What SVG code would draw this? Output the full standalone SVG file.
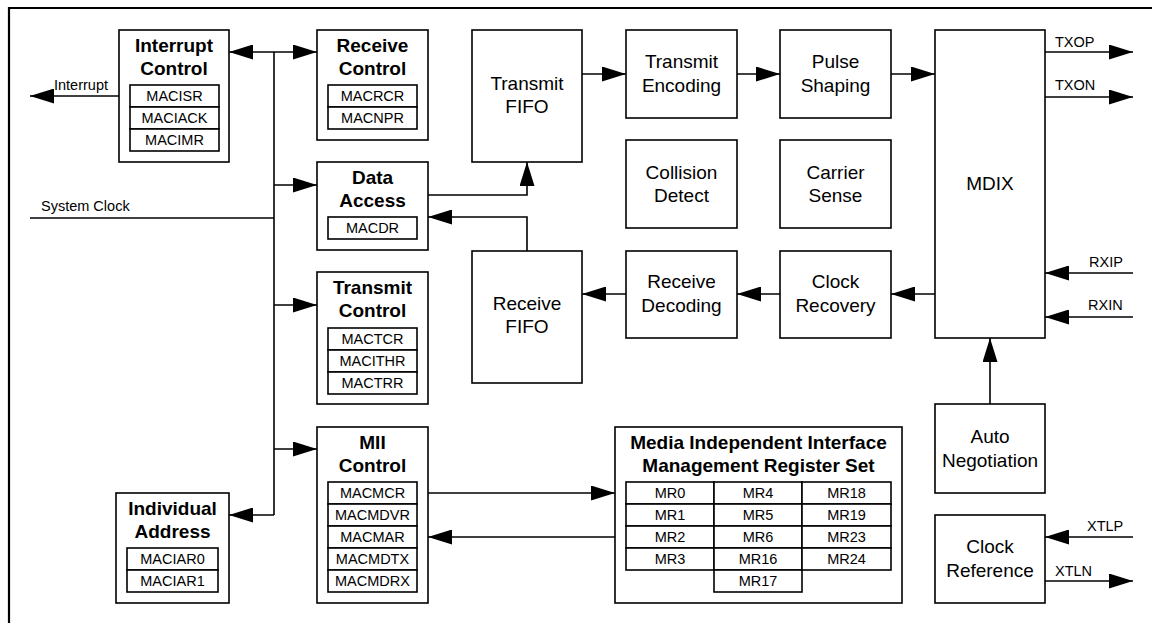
<svg xmlns="http://www.w3.org/2000/svg" width="1152" height="623" viewBox="0 0 1152 623">
<style>
.box{fill:#fff;stroke:#000;stroke-width:1.6}
.reg{fill:#fff;stroke:#000;stroke-width:1.6}
.ln{fill:none;stroke:#000;stroke-width:1.6}
.ttl{font-family:"Liberation Sans",Arial,sans-serif;font-weight:bold;font-size:19px;text-anchor:middle;fill:#000}
.lbl{font-family:"Liberation Sans",Arial,sans-serif;font-size:19px;text-anchor:middle;fill:#000}
.rt{font-family:"Liberation Sans",Arial,sans-serif;font-size:14.5px;text-anchor:middle;fill:#000}
.sm{font-family:"Liberation Sans",Arial,sans-serif;font-size:14.5px;fill:#000}
</style>
<defs>
<marker id="ah" markerUnits="userSpaceOnUse" markerWidth="24" markerHeight="15" refX="24" refY="7.5" orient="auto">
<path d="M0,0 L24,7.5 L0,15 Z" fill="#000"/>
</marker>
</defs>
<rect width="1152" height="623" fill="#fff"/>
<path d="M9,623 V8 H1152" fill="none" stroke="#000" stroke-width="2.2"/>

<g id="connectors">
<path class="ln" d="M274,52 V515"/>
<path class="ln" d="M274,52 H229" marker-end="url(#ah)"/>
<path class="ln" d="M274,52 H317" marker-end="url(#ah)"/>
<path class="ln" d="M274,185 H317" marker-end="url(#ah)"/>
<path class="ln" d="M274,305 H317" marker-end="url(#ah)"/>
<path class="ln" d="M274,449 H317" marker-end="url(#ah)"/>
<path class="ln" d="M274,515 H229" marker-end="url(#ah)"/>
<path class="ln" d="M30,218 H274"/>
<path class="ln" d="M119,96 H30" marker-end="url(#ah)"/>
<path class="ln" d="M428,195 H527 V162" marker-end="url(#ah)"/>
<path class="ln" d="M527,251 V217 H428" marker-end="url(#ah)"/>
<path class="ln" d="M582,74 H626" marker-end="url(#ah)"/>
<path class="ln" d="M737,74 H780" marker-end="url(#ah)"/>
<path class="ln" d="M891,74 H935" marker-end="url(#ah)"/>
<path class="ln" d="M935,294 H891" marker-end="url(#ah)"/>
<path class="ln" d="M780,294 H737" marker-end="url(#ah)"/>
<path class="ln" d="M626,294 H582" marker-end="url(#ah)"/>
<path class="ln" d="M428,493 H615" marker-end="url(#ah)"/>
<path class="ln" d="M615,537 H428" marker-end="url(#ah)"/>
<path class="ln" d="M990,404 V338" marker-end="url(#ah)"/>
<path class="ln" d="M1045,52 H1133" marker-end="url(#ah)"/>
<path class="ln" d="M1045,97 H1133" marker-end="url(#ah)"/>
<path class="ln" d="M1133,273 H1045" marker-end="url(#ah)"/>
<path class="ln" d="M1133,317 H1045" marker-end="url(#ah)"/>
<path class="ln" d="M1133,537 H1045" marker-end="url(#ah)"/>
<path class="ln" d="M1045,581 H1133" marker-end="url(#ah)"/>
<text class="sm" x="54" y="90">Interrupt</text>
<text class="sm" x="41" y="211">System Clock</text>
<text class="sm" x="1055" y="47">TXOP</text>
<text class="sm" x="1055" y="90">TXON</text>
<text class="sm" x="1089" y="267">RXIP</text>
<text class="sm" x="1088" y="310">RXIN</text>
<text class="sm" x="1087" y="531">XTLP</text>
<text class="sm" x="1055" y="576">XTLN</text>
</g>

<g id="interrupt-control">
<rect class="box" x="119" y="30" width="110" height="132"/>
<text class="ttl" x="174" y="52">Interrupt</text>
<text class="ttl" x="174" y="75">Control</text>
<rect class="reg" x="130" y="85" width="89" height="22"/><text class="rt" x="174.5" y="101">MACISR</text>
<rect class="reg" x="130" y="107" width="89" height="22"/><text class="rt" x="174.5" y="123">MACIACK</text>
<rect class="reg" x="130" y="129" width="89" height="22"/><text class="rt" x="174.5" y="145">MACIMR</text>
</g>

<g id="receive-control">
<rect class="box" x="317" y="30" width="111" height="110"/>
<text class="ttl" x="372.5" y="52">Receive</text>
<text class="ttl" x="372.5" y="75">Control</text>
<rect class="reg" x="328" y="85" width="89" height="22"/><text class="rt" x="372.5" y="101">MACRCR</text>
<rect class="reg" x="328" y="107" width="89" height="22"/><text class="rt" x="372.5" y="123">MACNPR</text>
</g>

<g id="data-access">
<rect class="box" x="317" y="162" width="111" height="88"/>
<text class="ttl" x="372.5" y="184">Data</text>
<text class="ttl" x="372.5" y="207">Access</text>
<rect class="reg" x="328" y="217" width="89" height="22"/><text class="rt" x="372.5" y="233">MACDR</text>
</g>

<g id="transmit-control">
<rect class="box" x="317" y="272" width="111" height="132"/>
<text class="ttl" x="372.5" y="294">Transmit</text>
<text class="ttl" x="372.5" y="317">Control</text>
<rect class="reg" x="328" y="328" width="89" height="22"/><text class="rt" x="372.5" y="344">MACTCR</text>
<rect class="reg" x="328" y="350" width="89" height="22"/><text class="rt" x="372.5" y="366">MACITHR</text>
<rect class="reg" x="328" y="372" width="89" height="22"/><text class="rt" x="372.5" y="388">MACTRR</text>
</g>

<g id="mii-control">
<rect class="box" x="317" y="427" width="111" height="176"/>
<text class="ttl" x="372.5" y="449">MII</text>
<text class="ttl" x="372.5" y="472">Control</text>
<rect class="reg" x="328" y="482" width="89" height="22"/><text class="rt" x="372.5" y="498">MACMCR</text>
<rect class="reg" x="328" y="504" width="89" height="22"/><text class="rt" x="372.5" y="520">MACMDVR</text>
<rect class="reg" x="328" y="526" width="89" height="22"/><text class="rt" x="372.5" y="542">MACMAR</text>
<rect class="reg" x="328" y="548" width="89" height="22"/><text class="rt" x="372.5" y="564">MACMDTX</text>
<rect class="reg" x="328" y="570" width="89" height="22"/><text class="rt" x="372.5" y="586">MACMDRX</text>
</g>

<g id="individual-address">
<rect class="box" x="116" y="493" width="113" height="110"/>
<text class="ttl" x="172.5" y="515">Individual</text>
<text class="ttl" x="172.5" y="538">Address</text>
<rect class="reg" x="127" y="548" width="91" height="22"/><text class="rt" x="172.5" y="564">MACIAR0</text>
<rect class="reg" x="127" y="570" width="91" height="22"/><text class="rt" x="172.5" y="586">MACIAR1</text>
</g>

<g id="transmit-fifo">
<rect class="box" x="472" y="30" width="110" height="132"/>
<text class="lbl" x="527" y="90">Transmit</text>
<text class="lbl" x="527" y="113">FIFO</text>
</g>

<g id="transmit-encoding">
<rect class="box" x="626" y="30" width="111" height="88"/>
<text class="lbl" x="681.5" y="68">Transmit</text>
<text class="lbl" x="681.5" y="92">Encoding</text>
</g>

<g id="pulse-shaping">
<rect class="box" x="780" y="30" width="111" height="88"/>
<text class="lbl" x="835.5" y="68">Pulse</text>
<text class="lbl" x="835.5" y="92">Shaping</text>
</g>

<g id="collision-detect">
<rect class="box" x="626" y="140" width="111" height="88"/>
<text class="lbl" x="681.5" y="179">Collision</text>
<text class="lbl" x="681.5" y="202">Detect</text>
</g>

<g id="carrier-sense">
<rect class="box" x="780" y="140" width="111" height="88"/>
<text class="lbl" x="835.5" y="179">Carrier</text>
<text class="lbl" x="835.5" y="202">Sense</text>
</g>

<g id="mdix">
<rect class="box" x="935" y="30" width="110" height="308"/>
<text class="lbl" x="990" y="190">MDIX</text>
</g>

<g id="receive-fifo">
<rect class="box" x="472" y="251" width="110" height="132"/>
<text class="lbl" x="527" y="310">Receive</text>
<text class="lbl" x="527" y="333">FIFO</text>
</g>

<g id="receive-decoding">
<rect class="box" x="626" y="251" width="111" height="87"/>
<text class="lbl" x="681.5" y="288">Receive</text>
<text class="lbl" x="681.5" y="312">Decoding</text>
</g>

<g id="clock-recovery">
<rect class="box" x="780" y="251" width="111" height="87"/>
<text class="lbl" x="835.5" y="288">Clock</text>
<text class="lbl" x="835.5" y="312">Recovery</text>
</g>

<g id="auto-negotiation">
<rect class="box" x="935" y="404" width="110" height="89"/>
<text class="lbl" x="990" y="443">Auto</text>
<text class="lbl" x="990" y="467">Negotiation</text>
</g>

<g id="clock-reference">
<rect class="box" x="935" y="515" width="110" height="88"/>
<text class="lbl" x="990" y="553">Clock</text>
<text class="lbl" x="990" y="577">Reference</text>
</g>

<g id="mii-register-set">
<rect class="box" x="615" y="427" width="287" height="176"/>
<text class="ttl" x="758.5" y="449">Media Independent Interface</text>
<text class="ttl" x="758.5" y="472">Management Register Set</text>
<rect class="reg" x="626" y="482" width="88" height="22"/><text class="rt" x="670" y="498">MR0</text>
<rect class="reg" x="626" y="504" width="88" height="22"/><text class="rt" x="670" y="520">MR1</text>
<rect class="reg" x="626" y="526" width="88" height="22"/><text class="rt" x="670" y="542">MR2</text>
<rect class="reg" x="626" y="548" width="88" height="22"/><text class="rt" x="670" y="564">MR3</text>
<rect class="reg" x="714" y="482" width="88" height="22"/><text class="rt" x="758" y="498">MR4</text>
<rect class="reg" x="714" y="504" width="88" height="22"/><text class="rt" x="758" y="520">MR5</text>
<rect class="reg" x="714" y="526" width="88" height="22"/><text class="rt" x="758" y="542">MR6</text>
<rect class="reg" x="714" y="548" width="88" height="22"/><text class="rt" x="758" y="564">MR16</text>
<rect class="reg" x="714" y="570" width="88" height="22"/><text class="rt" x="758" y="586">MR17</text>
<rect class="reg" x="802" y="482" width="89" height="22"/><text class="rt" x="846.5" y="498">MR18</text>
<rect class="reg" x="802" y="504" width="89" height="22"/><text class="rt" x="846.5" y="520">MR19</text>
<rect class="reg" x="802" y="526" width="89" height="22"/><text class="rt" x="846.5" y="542">MR23</text>
<rect class="reg" x="802" y="548" width="89" height="22"/><text class="rt" x="846.5" y="564">MR24</text>
</g>
</svg>
